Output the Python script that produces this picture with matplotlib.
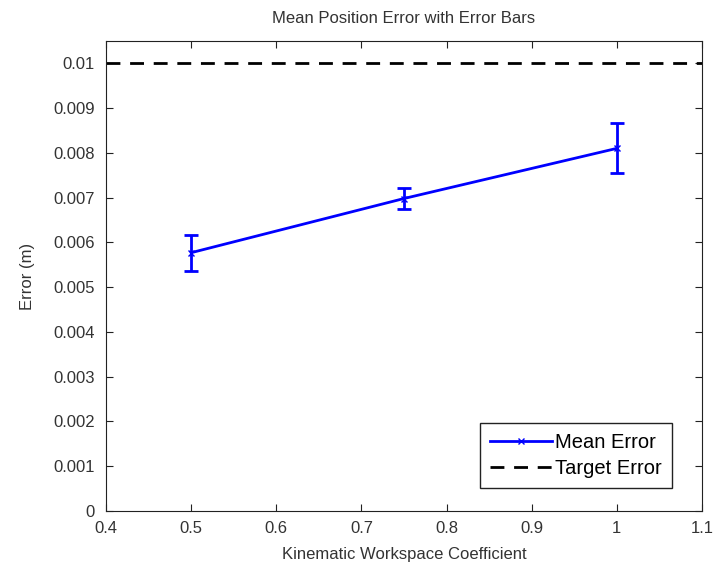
import numpy as np
import matplotlib
matplotlib.use("Agg")
import matplotlib.pyplot as plt

plt.rcParams['font.family'] = ['Liberation Sans', 'DejaVu Sans']

# data
coeffs = [0.5, 0.75, 1.0]
mean_err = [0.00577, 0.00698, 0.00810]
err_bar = [0.00040, 0.00023, 0.00056]
target = 0.01

fig = plt.figure(figsize=(7.14, 5.69), dpi=100)
ax = fig.add_axes([0.1485, 0.102, 0.8345, 0.826])

ax.errorbar(coeffs, mean_err, yerr=err_bar, color='blue', linewidth=2,
            fmt='none', capsize=5, capthick=2, elinewidth=2)
ax.plot(coeffs, mean_err, color='blue', linewidth=2, marker='x',
        markersize=4, label='Mean Error')
ax.plot([0.4, 1.1], [target, target], color='black', linestyle='--',
        linewidth=2, dashes=(5, 3.5), label='Target Error')

ax.set_xlim(0.4, 1.1)
ax.set_ylim(0, 0.0105)
ax.set_xticks(np.arange(0.4, 1.11, 0.1))
ax.set_xticklabels(['0.4', '0.5', '0.6', '0.7', '0.8', '0.9', '1', '1.1'])
yt = np.arange(0, 0.0101, 0.001)
ax.set_yticks(yt)
ax.set_yticklabels(['0'] + ['%g' % round(v, 3) for v in yt[1:]])
ax.tick_params(direction='in', top=True, right=True, labelsize=12, length=5,
               colors='#222222', labelcolor='#333333')
ax.tick_params(axis='x', pad=7)
ax.tick_params(axis='y', pad=8)
for s in ax.spines.values():
    s.set_color('#222222')

ax.set_title('Mean Position Error with Error Bars', fontsize=12,
             color='#333333', pad=13)
ax.set_xlabel('Kinematic Workspace Coefficient', fontsize=12,
              color='#333333', labelpad=8)
ax.set_ylabel('Error (m)', fontsize=12, color='#333333', labelpad=13)

leg = ax.legend(loc='lower right', fontsize=14.5, fancybox=False, framealpha=1,
                edgecolor='#222222', handlelength=3.1, handletextpad=0.15,
                borderpad=0.5, labelspacing=0.35, borderaxespad=0,
                bbox_to_anchor=(0.95, 0.049))
leg.get_frame().set_linewidth(1)

fig.savefig('out.png', dpi=100)
